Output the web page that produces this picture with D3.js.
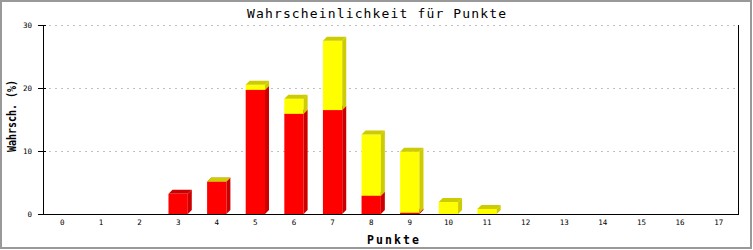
<!DOCTYPE html>
<html><head><meta charset="utf-8">
<script src="https://cdn.jsdelivr.net/npm/d3@7"></script>
<style>body{margin:0;background:#fff}svg{display:block}</style>
</head><body>
<svg id="c" width="753" height="250"></svg>
<script>
const categories = ["0","1","2","3","4","5","6","7","8","9","10","11","12","13","14","15","16","17"];
const redValues    = [0,0,0,3.2,5.1,19.7,15.9,16.5,2.9,0.2,0,0,0,0,0,0,0,0];
const yellowValues = [0,0,0,0,0.05,0.8,2.4,11.0,9.7,9.7,1.9,0.8,0,0,0,0,0,0];
const yTicks = [0,10,20,30];
const seriesColors = [{front:"#ff0000", dark:"#cc0000"},{front:"#ffff00", dark:"#cccc00"}];
const title = "Wahrscheinlichkeit für Punkte";
const xTitle = "Punkte";
const yTitle = "Wahrsch. (%)";

const svg = d3.select("#c");
const L = 43, R = 738, T = 25, B = 214, depth = 4;
const font = "'DejaVu Sans Mono', monospace";

svg.append("rect").attr("x",1).attr("y",1).attr("width",750).attr("height",247)
  .attr("fill","#fff").attr("stroke","#999").attr("stroke-width",2);

const x = d3.scaleBand().domain(categories).range([L,R]).paddingInner(0.5).paddingOuter(0.25);
const y = d3.scaleLinear().domain([0,30]).range([B,T]);

// grid
svg.append("g").selectAll("line").data(yTicks.filter(d=>d>0)).join("line")
  .attr("x1",L).attr("x2",R).attr("y1",d=>y(d)+0.5).attr("y2",d=>y(d)+0.5)
  .attr("stroke","#c0c0c0").attr("stroke-dasharray","2,4");

// bars
const gb = svg.append("g");
categories.forEach((c,i)=>{
  const vals = [redValues[i], yellowValues[i]];
  let base = 0;
  const x0 = x(c), x1 = x(c)+x.bandwidth();
  vals.forEach((v,s)=>{
    if (v<=0) return;
    const yb = y(base), yt = y(base+v);
    const col = seriesColors[s];
    gb.append("rect").attr("x",x0).attr("y",yt).attr("width",x1-x0).attr("height",yb-yt).attr("fill",col.front);
    gb.append("polygon").attr("points",[[x1,yb],[x1+depth,yb-depth],[x1+depth,yt-depth],[x1,yt]].join(" ")).attr("fill",col.dark);
    gb.append("polygon").attr("points",[[x0,yt],[x0+depth,yt-depth],[x1+depth,yt-depth],[x1,yt]].join(" ")).attr("fill",col.dark);
    base += v;
  });
});

// axes
const ya = svg.append("g").attr("transform",`translate(${L},0)`)
  .call(d3.axisLeft(y).tickValues(yTicks).tickSize(5).tickPadding(6));
ya.select(".domain").remove();
ya.selectAll("line").attr("stroke","#000").attr("x2",-5).attr("x1",3);
ya.selectAll("text").attr("font-family",font).attr("font-size",7.5).attr("fill","#000");

const xa = svg.append("g").attr("transform",`translate(0,${B})`)
  .call(d3.axisBottom(x).tickSize(0).tickPadding(6));
xa.select(".domain").remove();
xa.selectAll("text").attr("font-family",font).attr("font-size",7.5).attr("fill","#000");

svg.append("line").attr("x1",L).attr("x2",R+1).attr("y1",B+0.5).attr("y2",B+0.5).attr("stroke","#000");
svg.append("line").attr("x1",L+0.5).attr("x2",L+0.5).attr("y1",T).attr("y2",B+1).attr("stroke","#000");
svg.append("line").attr("x1",R+0.5).attr("x2",R+0.5).attr("y1",T).attr("y2",B+1).attr("stroke","#000");

// titles
svg.append("text").attr("x",376.5).attr("y",18).attr("text-anchor","middle")
  .attr("font-family",font).attr("font-size",13).attr("font-weight","normal")
  .attr("textLength",259).attr("lengthAdjust","spacing").text(title);
svg.append("text").attr("x",393).attr("y",244).attr("text-anchor","middle")
  .attr("font-family",font).attr("font-size",11.5).attr("font-weight","bold")
  .attr("textLength",52).attr("lengthAdjust","spacing").text(xTitle);
svg.append("text").attr("transform","translate(16,116) rotate(-90)").attr("text-anchor","middle")
  .attr("font-family",font).attr("font-size",12).attr("font-weight","bold")
  .attr("textLength",72).attr("lengthAdjust","spacingAndGlyphs").text(yTitle);
</script>
</body></html>
